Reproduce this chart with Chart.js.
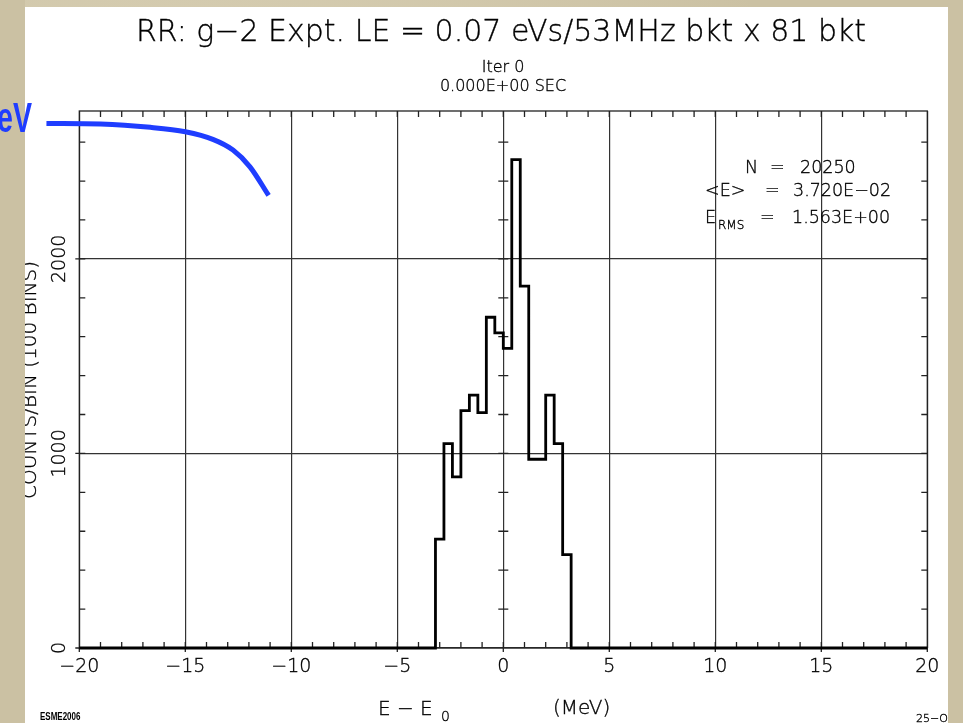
<!DOCTYPE html>
<html>
<head>
<meta charset="utf-8">
<script src="https://cdn.jsdelivr.net/npm/chart.js@4.4.1/dist/chart.umd.min.js"></script>
<style>
  html, body { margin: 0; padding: 0; }
  body {
    width: 963px; height: 723px; overflow: hidden; position: relative;
    background: #cbc1a3;
    background-image:
      radial-gradient(ellipse at 20% 30%, rgba(235,228,205,0.55), rgba(0,0,0,0) 60%),
      radial-gradient(ellipse at 80% 75%, rgba(180,168,135,0.35), rgba(0,0,0,0) 55%);
  }
  #panel { position: absolute; left: 25px; top: 7px; width: 923px; height: 716px; background: #fff; }
  #chart { position: absolute; left: 0; top: 0; }
  .strip { position: absolute; top: 0; height: 723px; background: #cbc1a3; }
  .t { position: absolute; font-family: 'DejaVu Sans', sans-serif; font-weight: 200; color: #000;
       -webkit-text-stroke: 0.35px #000; white-space: nowrap; line-height: 1; }
</style>
</head>
<body>
<div id="panel"></div>
<canvas id="chart" width="963" height="723"></canvas>

<!-- header -->
<div class="t" style="left:501px;top:16px;font-size:30px;transform:translateX(-50%)">RR: g−2 Expt. LE = 0.07 eVs/53MHz bkt x 81 bkt</div>
<div class="t" style="left:503px;top:59px;font-size:16px;transform:translateX(-50%)">Iter 0</div>
<div class="t" style="left:503px;top:78px;font-size:16px;transform:translateX(-50%)">0.000E+00 SEC</div>

<!-- stats box -->
<div class="t" style="left:745px;top:159px;font-size:17.5px">N</div>
<div class="t" style="left:770px;top:159px;font-size:17.5px">=</div>
<div class="t" style="left:800px;top:159px;font-size:17.5px">20250</div>
<div class="t" style="left:705px;top:182px;font-size:17.5px">&lt;E&gt;</div>
<div class="t" style="left:765px;top:182px;font-size:17.5px">=</div>
<div class="t" style="left:793px;top:182px;font-size:17.5px">3.720E−02</div>
<div class="t" style="left:705px;top:209px;font-size:17.5px">E</div>
<div class="t" style="left:718px;top:219px;font-size:12px">RMS</div>
<div class="t" style="left:760px;top:209px;font-size:17.5px">=</div>
<div class="t" style="left:792px;top:209px;font-size:17.5px">1.563E+00</div>

<!-- axis titles -->
<div class="t" style="left:29px;top:380px;font-size:20px;transform:translate(-50%,-50%) rotate(-90deg)">COUNTS/BIN (100 BINS)</div>
<div class="t" style="left:378px;top:698px;font-size:20px">E − E</div>
<div class="t" style="left:441px;top:709px;font-size:14px">0</div>
<div class="t" style="left:553px;top:697px;font-size:20px">(MeV)</div>

<!-- footer marks -->
<div class="t" style="left:40px;top:712px;font-size:10px;font-weight:bold;-webkit-text-stroke:0;font-family:'Liberation Sans Narrow','Liberation Sans',sans-serif;transform:scaleX(0.8);transform-origin:left">ESME2006</div>
<div class="t" style="left:916px;top:713px;font-size:11px">25−Oct</div>

<div class="strip" style="left:0;width:25px"></div>
<div class="strip" style="left:948px;width:15px"></div>

<div style="position:absolute;left:-3px;top:97px;font-family:'Liberation Sans',Arial,sans-serif;font-weight:bold;font-size:42px;line-height:1;color:#1f3dff;transform:scaleX(0.68);transform-origin:left">eV</div>

<script>
// axis ranges and tick labels
const xMin = -20, xMax = 20;
const yMin = 0, yMax = 2760;
const xTickValues = [-20, -15, -10, -5, 0, 5, 10, 15, 20];
const xTickLabels = ['−20', '−15', '−10', '−5', '0', '5', '10', '15', '20'];
const yTickValues = [0, 1000, 2000];
const yTickLabels = ['0', '1000', '2000'];
const xMinorStep = 1;
const yMinorStep = 200;

// histogram: bin edges (MeV) and counts per bin, 0.4 MeV bins
const binEdges  = [-3.2, -2.8, -2.4, -2.0, -1.6, -1.2, -0.8, -0.4, 0.0, 0.4, 0.8, 1.2, 1.6, 2.0, 2.4, 2.8, 3.2];
const binCounts = [560, 1050, 880, 1220, 1300, 1210, 1700, 1620, 1540, 2510, 1860, 970, 970, 1300, 1050, 480];

// hand-drawn blue annotation curve on the slide
const curveX = [-21.55, -19.0, -16.65, -15.0, -13.7, -12.75, -11.95, -11.07];
const curveY = [2696, 2693, 2676, 2653, 2614, 2559, 2473, 2326];

const histPoints = [{ x: xMin, y: 0 }];
binCounts.forEach((c, i) => histPoints.push({ x: binEdges[i], y: c }));
histPoints.push({ x: binEdges[binEdges.length - 1], y: 0 });
histPoints.push({ x: xMax, y: 0 });

const curvePoints = curveX.map((x, i) => ({ x, y: curveY[i] }));

const tickFont = { family: 'DejaVu Sans', size: 19, weight: 200 };

// frame + inward minor ticks, drawn like the old plotter output
const frameTicks = {
  id: 'frameTicks',
  beforeDatasetsDraw(chart) {
    const { ctx, chartArea: a, scales: { x, y } } = chart;
    ctx.save();
    ctx.strokeStyle = '#222';
    ctx.lineWidth = 1.3;
    ctx.strokeRect(a.left, a.top, a.right - a.left, a.bottom - a.top);
    ctx.beginPath();
    for (let v = xMin + xMinorStep; v < xMax; v += xMinorStep) {
      const px = x.getPixelForValue(v);
      ctx.moveTo(px, a.bottom); ctx.lineTo(px, a.bottom - 6);
      ctx.moveTo(px, a.top); ctx.lineTo(px, a.top + 6);
    }
    const x0 = x.getPixelForValue(0);
    for (let v = yMinorStep; v < yMax; v += yMinorStep) {
      const py = y.getPixelForValue(v);
      ctx.moveTo(a.left, py); ctx.lineTo(a.left + 6, py);
      ctx.moveTo(a.right, py); ctx.lineTo(a.right - 6, py);
      ctx.moveTo(x0 - 5, py); ctx.lineTo(x0 + 5, py);
    }
    xTickValues.forEach(v => {
      const px = x.getPixelForValue(v);
      ctx.moveTo(px, a.bottom); ctx.lineTo(px, a.bottom + 4);
    });
    yTickValues.forEach(v => {
      const py = y.getPixelForValue(v);
      ctx.moveTo(a.left, py); ctx.lineTo(a.left - 4, py);
    });
    ctx.stroke();
    ctx.restore();
  }
};

new Chart(document.getElementById('chart'), {
  type: 'line',
  data: {
    datasets: [
      {
        data: curvePoints,
        borderColor: '#1f3dff',
        borderWidth: 5,
        cubicInterpolationMode: 'monotone',
        pointRadius: 0,
        fill: false,
        clip: false,
        order: 0
      },
      {
        data: histPoints,
        stepped: 'before',
        borderColor: '#000',
        borderWidth: 2.8,
        pointRadius: 0,
        fill: false,
        clip: false,
        order: 1
      }
    ]
  },
  options: {
    responsive: false,
    animation: false,
    layout: { padding: { left: 39, right: 35.7, top: 111, bottom: 45 } },
    plugins: { legend: { display: false }, tooltip: { enabled: false } },
    scales: {
      x: {
        type: 'linear', min: xMin, max: xMax,
        afterFit(s) { s.height = 30; },
        afterBuildTicks(s) { s.ticks = xTickValues.map(v => ({ value: v })); },
        ticks: { autoSkip: false, maxRotation: 0, padding: 8, color: '#000', font: tickFont,
                 textStrokeColor: '#000', textStrokeWidth: 0.35,
                 callback: (v, i) => xTickLabels[i] },
        grid: { color: '#333', lineWidth: 1.2, drawTicks: false },
        border: { display: false }
      },
      y: {
        type: 'linear', min: yMin, max: yMax,
        afterFit(s) { s.width = 40.3; },
        afterBuildTicks(s) { s.ticks = yTickValues.map(v => ({ value: v })); },
        ticks: { autoSkip: false, minRotation: 90, maxRotation: 90, crossAlign: 'center', padding: -5,
                 color: '#000', font: tickFont, textStrokeColor: '#000', textStrokeWidth: 0.35,
                 callback: (v, i) => yTickLabels[i] },
        grid: { color: '#333', lineWidth: 1.2, drawTicks: false },
        border: { display: false }
      }
    }
  },
  plugins: [frameTicks]
});
</script>
</body>
</html>
